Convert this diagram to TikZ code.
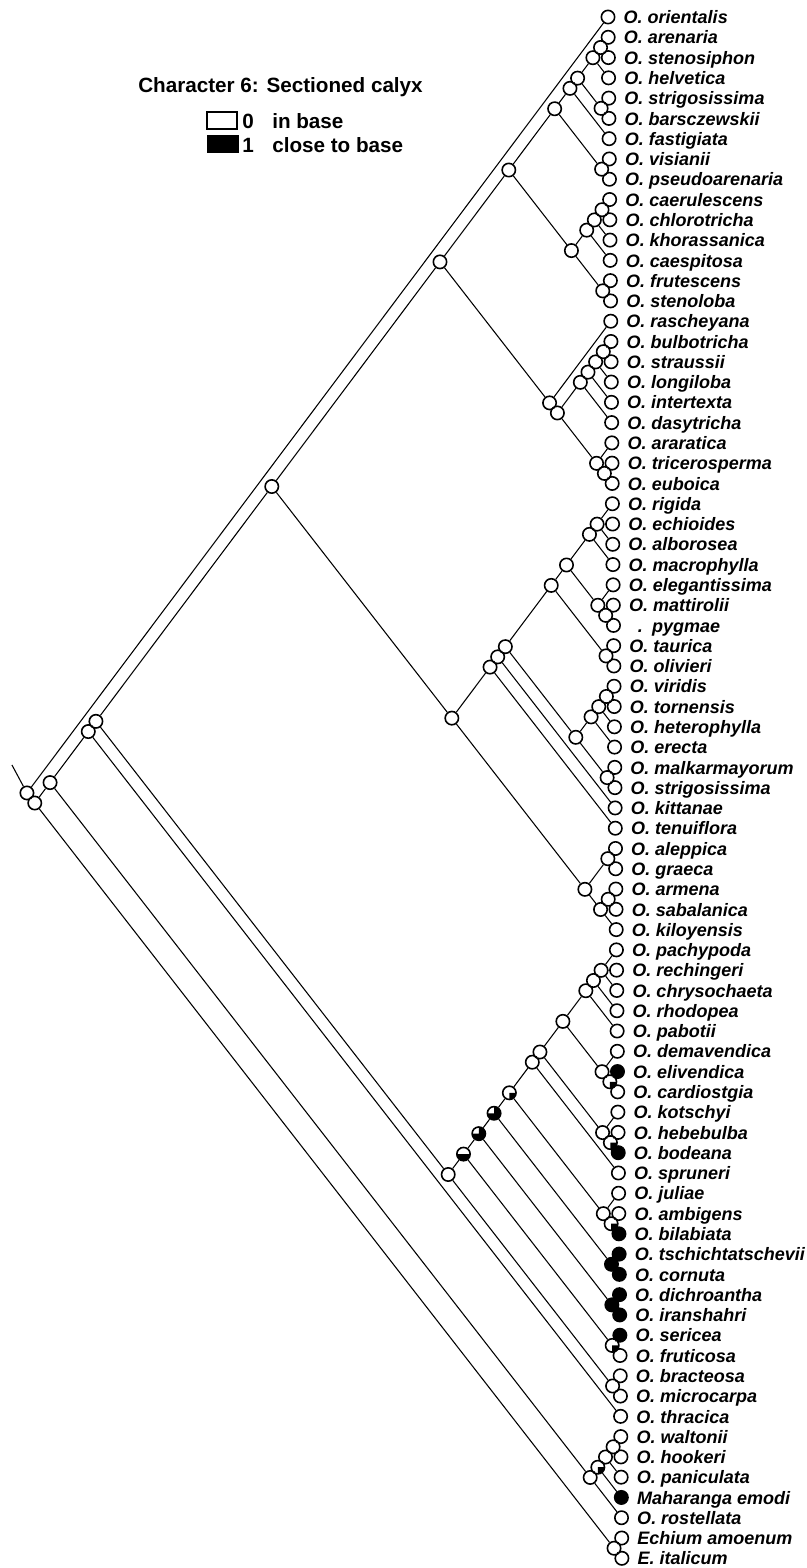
\documentclass[tikz,border=0pt]{standalone}
\usepackage{fontspec}
\setmainfont{Liberation Sans}
\usepackage{tikz}
\usetikzlibrary{positioning}

% clade node from its first and last leaf: #1 first, #2 last, #3 style
\newcommand\clade[3]{%
  \pgfmathsetmacro\cy{17+((#1+#2)/2-1)*20.28}%
  \pgfmathsetmacro\cx{608-0.763*(#2-#1)*10.14}%
  \node[#3] (n#1x#2) at ({\cx+0.009*(\cy-17)},{\cy-0.009*(\cx-608)}) {};}

\begin{document}
\begin{tikzpicture}[x=0.75pt, y=-0.75pt,
  state/.style={circle, draw, line width=1.2pt, fill=white, minimum size=10pt, inner sep=0pt},
  part/.style 2 args={state, path picture={\fill[black] (path picture bounding box.center) -- ++(#1:8pt) arc[start angle=#1, end angle=#2, radius=8pt] -- cycle;}},
  branch/.style={line width=0.8pt},
  taxon/.style={font=\fontsize{13.5}{16}\selectfont\bfseries\itshape, inner sep=0pt, text height=10pt, text depth=0pt},
  legtext/.style={font=\fontsize{15.5}{18}\selectfont\bfseries, inner sep=0pt},
  legbox/.style={draw, line width=1pt, minimum width=22.5pt, minimum height=12.75pt, inner sep=0pt}]

\useasboundingbox (0,0) rectangle (807,1568);

% legend
\node[legtext, anchor=base west] (title) at (138,92) {Character 6: Sectioned calyx};
\node[legbox, fill=white] (box0) at (222,120.5) {};
\node[legtext, anchor=base west] (v0) at (242,128) {0};
\node[legtext, anchor=base west] (d0) at (272,128) {in base};
\node[legbox, fill=black] (box1) at (223,144) {};
\node[legtext, anchor=base west] (v1) at (242,152) {1};
\node[legtext, anchor=base west] (d1) at (272,152) {close to base};

% terminals
\foreach \i/\s/\t in {
  1/white/{O. orientalis}, 2/white/{O. arenaria}, 3/white/{O. stenosiphon},
  4/white/{O. helvetica}, 5/white/{O. strigosissima}, 6/white/{O. barsczewskii},
  7/white/{O. fastigiata}, 8/white/{O. visianii}, 9/white/{O. pseudoarenaria},
  10/white/{O. caerulescens}, 11/white/{O. chlorotricha}, 12/white/{O. khorassanica},
  13/white/{O. caespitosa}, 14/white/{O. frutescens}, 15/white/{O. stenoloba},
  16/white/{O. rascheyana}, 17/white/{O. bulbotricha}, 18/white/{O. straussii},
  19/white/{O. longiloba}, 20/white/{O. intertexta}, 21/white/{O. dasytricha},
  22/white/{O. araratica}, 23/white/{O. tricerosperma}, 24/white/{O. euboica},
  25/white/{O. rigida}, 26/white/{O. echioides}, 27/white/{O. alborosea},
  28/white/{O. macrophylla}, 29/white/{O. elegantissima}, 30/white/{O. mattirolii},
  31/white/{\phantom{O}\hspace{-4pt}.\hspace{2pt} pygmae}, 32/white/{O. taurica},
  33/white/{O. olivieri}, 34/white/{O. viridis}, 35/white/{O. tornensis},
  36/white/{O. heterophylla}, 37/white/{O. erecta}, 38/white/{O. malkarmayorum},
  39/white/{O. strigosissima}, 40/white/{O. kittanae}, 41/white/{O. tenuiflora},
  42/white/{O. aleppica}, 43/white/{O. graeca}, 44/white/{O. armena},
  45/white/{O. sabalanica}, 46/white/{O. kiloyensis}, 47/white/{O. pachypoda},
  48/white/{O. rechingeri}, 49/white/{O. chrysochaeta}, 50/white/{O. rhodopea},
  51/white/{O. pabotii}, 52/white/{O. demavendica}, 53/black/{O. elivendica},
  54/white/{O. cardiostgia}, 55/white/{O. kotschyi}, 56/white/{O. hebebulba},
  57/black/{O. bodeana}, 58/white/{O. spruneri}, 59/white/{O. juliae},
  60/white/{O. ambigens}, 61/black/{O. bilabiata}, 62/black/{O. tschichtatschevii},
  63/black/{O. cornuta}, 64/black/{O. dichroantha}, 65/black/{O. iranshahri},
  66/black/{O. sericea}, 67/white/{O. fruticosa}, 68/white/{O. bracteosa},
  69/white/{O. microcarpa}, 70/white/{O. thracica}, 71/white/{O. waltonii},
  72/white/{O. hookeri}, 73/white/{O. paniculata}, 74/black/{Maharanga emodi},
  75/white/{O. rostellata}, 76/white/{Echium amoenum}, 77/white/{E. italicum}}
{
  \clade{\i}{\i}{state, fill=\s}
  \node[taxon, right=6pt of n\i x\i] (t\i) {\t};
}

% internal nodes, state 0
\foreach \a/\b in {1/77, 2/77, 76/77, 2/75, 71/75, 71/73, 71/72, 2/70, 2/69, 2/46,
  2/24, 2/15, 2/9, 2/7, 2/6, 2/4, 2/3, 5/6, 8/9, 10/15, 10/13, 10/12, 10/11, 14/15,
  16/24, 17/24, 17/21, 17/20, 17/19, 17/18, 22/24, 23/24,
  25/46, 25/41, 25/40, 25/39, 25/33, 25/31, 25/28, 25/27, 29/31, 30/31, 32/33,
  34/39, 34/37, 34/36, 34/35, 38/39, 42/46, 42/43, 44/46, 44/45,
  47/69, 47/58, 47/57, 47/54, 47/51, 47/50, 47/49, 52/54, 55/57, 59/61, 68/69}
  {\clade{\a}{\b}{state}}

% internal nodes, ambiguous or state 1
\clade{47}{67}{part={180}{360}}
\clade{47}{65}{part={180}{450}}
\clade{47}{63}{part={180}{450}}
\clade{47}{61}{part={270}{360}}
\clade{53}{54}{part={270}{360}}
\clade{56}{57}{part={270}{360}}
\clade{60}{61}{part={270}{360}}
\clade{66}{67}{part={270}{360}}
\clade{71}{74}{part={270}{360}}
\clade{62}{63}{state, fill=black}
\clade{64}{65}{state, fill=black}

% root stem
\path (n1x77) ++(-15,-28) coordinate (stem);
\draw[branch] (stem) -- (n1x77);

% branches
\foreach \p/\c in {
  1x77/1x1, 1x77/2x77, 2x77/2x75, 2x77/76x77, 76x77/76x76, 76x77/77x77,
  2x75/2x70, 2x75/71x75, 71x75/71x74, 71x75/75x75, 71x74/71x73, 71x74/74x74,
  71x73/71x72, 71x73/73x73, 71x72/71x71, 71x72/72x72,
  2x70/2x69, 2x70/70x70, 2x69/2x46, 2x69/47x69, 2x46/2x24, 2x46/25x46,
  2x24/2x15, 2x24/16x24, 2x15/2x9, 2x15/10x15, 2x9/2x7, 2x9/8x9,
  2x7/2x6, 2x7/7x7, 2x6/2x4, 2x6/5x6, 2x4/2x3, 2x4/4x4, 2x3/2x2, 2x3/3x3,
  5x6/5x5, 5x6/6x6, 8x9/8x8, 8x9/9x9,
  10x15/10x13, 10x15/14x15, 10x13/10x12, 10x13/13x13, 10x12/10x11, 10x12/12x12,
  10x11/10x10, 10x11/11x11, 14x15/14x14, 14x15/15x15,
  16x24/16x16, 16x24/17x24, 17x24/17x21, 17x24/22x24, 17x21/17x20, 17x21/21x21,
  17x20/17x19, 17x20/20x20, 17x19/17x18, 17x19/19x19, 17x18/17x17, 17x18/18x18,
  22x24/22x22, 22x24/23x24, 23x24/23x23, 23x24/24x24,
  25x46/25x41, 25x46/42x46, 25x41/25x40, 25x41/41x41, 25x40/25x39, 25x40/40x40,
  25x39/25x33, 25x39/34x39, 25x33/25x31, 25x33/32x33, 25x31/25x28, 25x31/29x31,
  25x28/25x27, 25x28/28x28, 25x27/25x25, 25x27/26x26, 25x27/27x27,
  29x31/29x29, 29x31/30x31, 30x31/30x30, 30x31/31x31, 32x33/32x32, 32x33/33x33,
  34x39/34x37, 34x39/38x39, 34x37/34x36, 34x37/37x37, 34x36/34x35, 34x36/36x36,
  34x35/34x34, 34x35/35x35, 38x39/38x38, 38x39/39x39,
  42x46/42x43, 42x46/44x46, 42x43/42x42, 42x43/43x43, 44x46/44x45, 44x46/46x46,
  44x45/44x44, 44x45/45x45,
  47x69/47x67, 47x69/68x69, 47x67/47x65, 47x67/66x67, 47x65/47x63, 47x65/64x65,
  47x63/47x61, 47x63/62x63, 47x61/47x58, 47x61/59x61, 47x58/47x57, 47x58/58x58,
  47x57/47x54, 47x57/55x57, 47x54/47x51, 47x54/52x54, 47x51/47x50, 47x51/51x51,
  47x50/47x49, 47x50/50x50, 47x49/47x47, 47x49/48x48, 47x49/49x49,
  52x54/52x52, 52x54/53x54, 53x54/53x53, 53x54/54x54,
  55x57/55x55, 55x57/56x57, 56x57/56x56, 56x57/57x57,
  59x61/59x59, 59x61/60x61, 60x61/60x60, 60x61/61x61,
  62x63/62x62, 62x63/63x63, 64x65/64x64, 64x65/65x65,
  66x67/66x66, 66x67/67x67, 68x69/68x68, 68x69/69x69}
  \draw[branch] (n\p) -- (n\c);

\end{tikzpicture}
\end{document}
